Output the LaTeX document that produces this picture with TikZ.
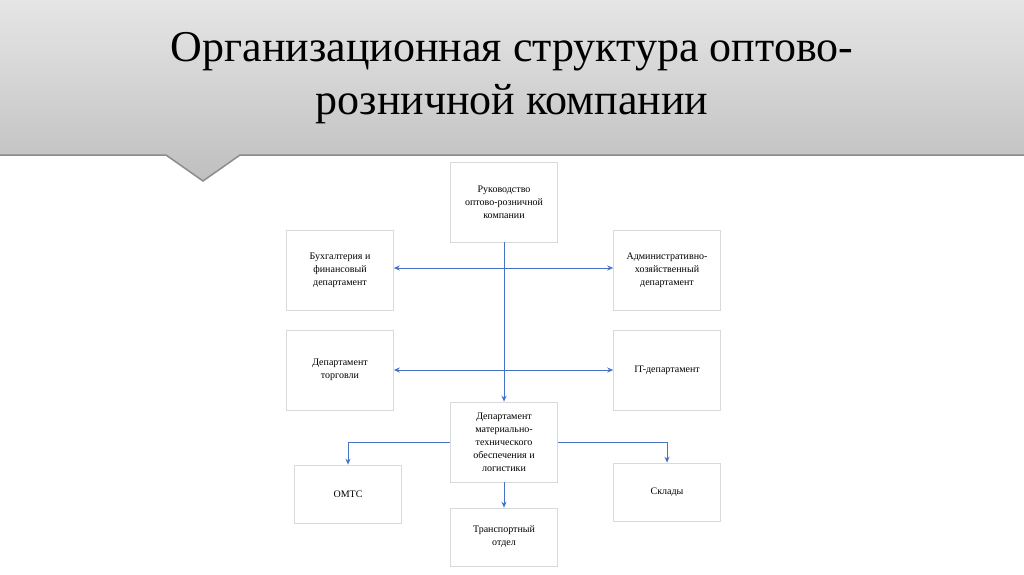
\documentclass[tikz,border=0pt]{standalone}
\usepackage{fontspec}
\setmainfont{Liberation Serif}
\usetikzlibrary{arrows.meta}
\definecolor{ln}{HTML}{4472C4}
\begin{document}
\begin{tikzpicture}[x=1pt,y=-1pt,
 box/.style={draw=black!15,line width=0.6pt,minimum width=107pt,align=center,font=\fontsize{10}{13}\selectfont,inner sep=2pt},
 con/.style={ln,line width=1pt,-{Stealth[length=6pt,width=5pt]}},
 con2/.style={ln,line width=1pt,{Stealth[length=6pt,width=5pt]}-{Stealth[length=6pt,width=5pt]}}]
\useasboundingbox (0,0) rectangle (1024,574);
\fill[white] (0,0) rectangle (1024,574);
\shade[top color=black!10,bottom color=black!25] (0,0) -- (1024,0) -- (1024,155) -- (240,155) -- (203,181) -- (166,155) -- (0,155) -- cycle;
\draw[black!45,line width=1.5pt] (0,155) -- (166,155) -- (203,181) -- (240,155) -- (1024,155);
\node[font=\fontsize{44}{53}\selectfont,align=center] (title) at (512,78) {Организационная структура оптово-\\розничной компании};
\node[box,minimum height=80pt] (ruk) at (504,202) {Руководство\\оптово-розничной\\компании};
\node[box,minimum height=80pt] (buh) at (340,270) {Бухгалтерия и\\финансовый\\департамент};
\node[box,minimum height=80pt] (adm) at (667,270) {Административно-\\хозяйственный\\департамент};
\node[box,minimum height=80pt] (trd) at (340,370) {Департамент\\торговли};
\node[box,minimum height=80pt] (it) at (667,370) {IT-департамент};
\node[box,minimum height=80pt] (mto) at (504,442) {Департамент\\материально-\\технического\\обеспечения и\\логистики};
\node[box,minimum height=58pt] (omt) at (348,494) {ОМТС};
\node[box,minimum height=58pt] (skl) at (667,492) {Склады};
\node[box,minimum height=58pt] (trn) at (504,537) {Транспортный\\отдел};
\draw[con] (ruk.south) -- (mto.north);
\draw[con2] (buh.east|-0,268) -- (adm.west|-0,268);
\draw[con2] (trd.east) -- (it.west);
\draw[con] (mto.west) -| (omt.north);
\draw[con] (mto.east) -| (skl.north);
\draw[con] (mto.south) -- (trn.north);
\end{tikzpicture}
\end{document}
